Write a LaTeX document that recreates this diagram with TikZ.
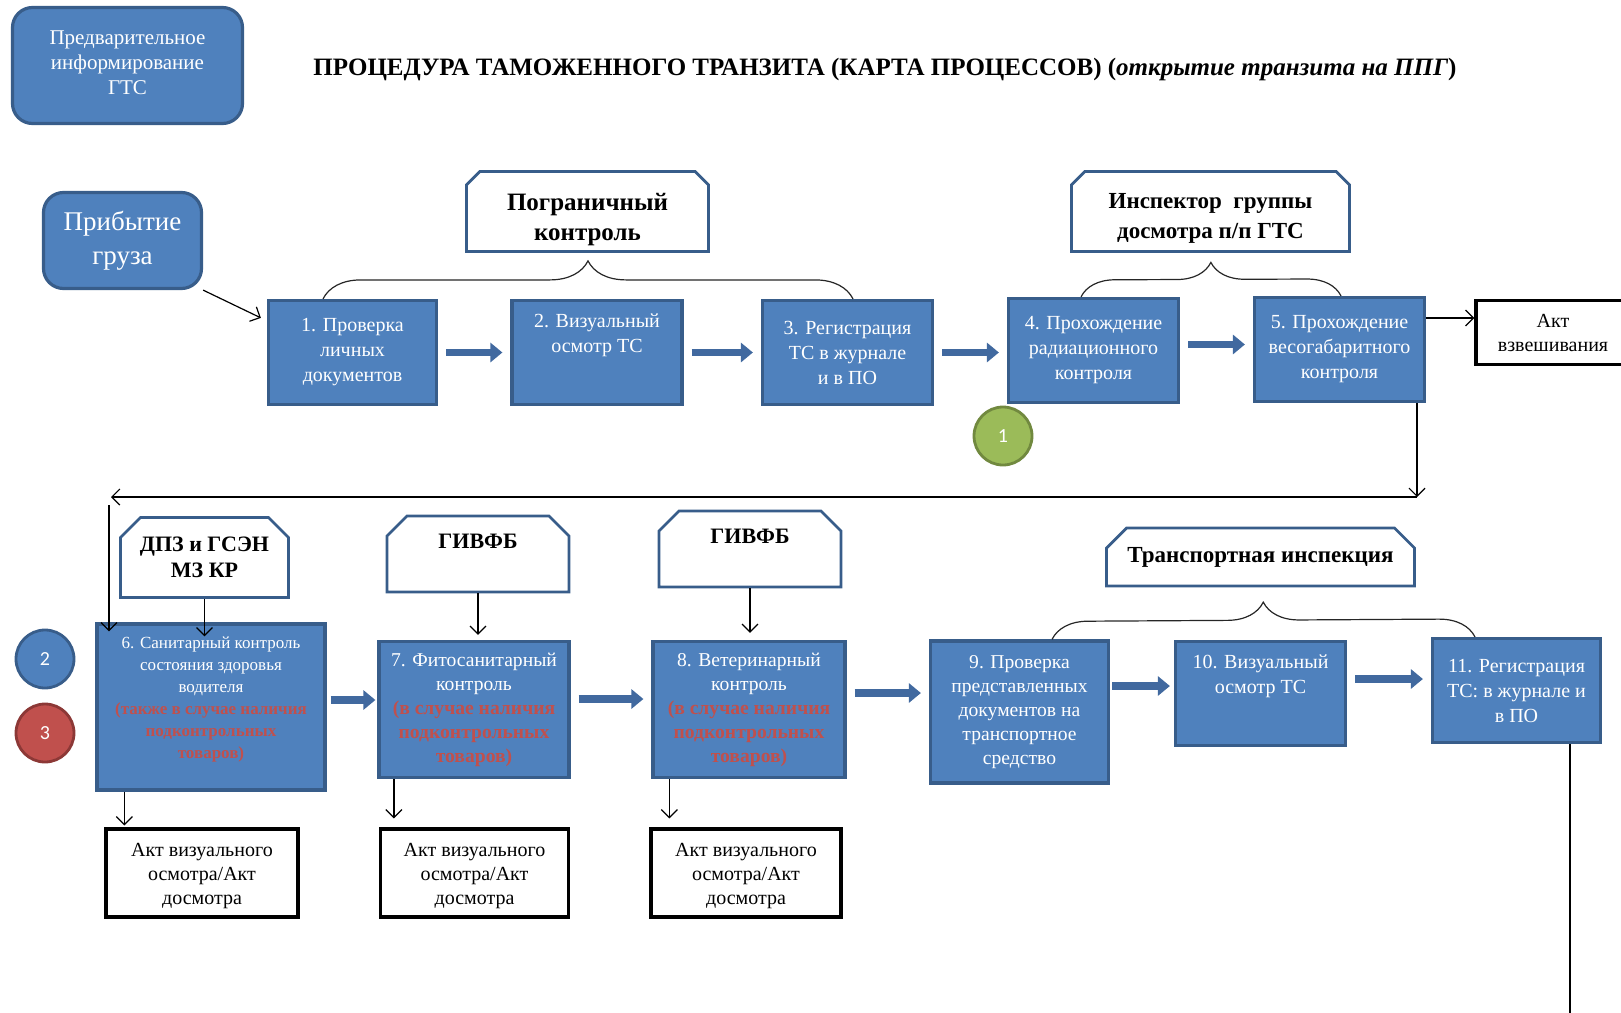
\documentclass[tikz,border=0pt]{standalone}
\usepackage{fontspec}
\setmainfont{Liberation Serif}
\newfontfamily\badgefont{Carlito}
\usetikzlibrary{arrows.meta,shapes.misc,decorations.pathreplacing,calc}

\definecolor{boxblue}{HTML}{4F81BD}
\definecolor{boxline}{HTML}{385D8A}
\definecolor{flowblue}{HTML}{41699F}
\definecolor{okfill}{HTML}{9BBB59}
\definecolor{okline}{HTML}{71893F}
\definecolor{stopfill}{HTML}{C0504D}
\definecolor{stopline}{HTML}{8C3836}
\definecolor{redtxt}{HTML}{C0504D}

\newcommand{\alertline}[1]{\textcolor{redtxt}{\textbf{#1}}}

\tikzset{
  stage/.style={draw=boxline, fill=boxblue, line width=1.6pt, text=white, align=center,
    inner sep=2pt, font=\fontsize{10}{12.5}\selectfont},
  startbox/.style={draw=boxline, fill=boxblue, line width=1.6pt, rounded corners=10pt,
    text=white, align=center},
  unit/.style={draw=boxline, fill=white, line width=1.4pt, chamfered rectangle,
    chamfered rectangle corners={north west,north east},
    chamfered rectangle xsep=5pt, chamfered rectangle ysep=5pt,
    align=center, font=\bfseries\fontsize{11.5}{14.5}\selectfont},
  unittext/.style={yshift=-4pt, align=center, font=\bfseries\fontsize{#1}{15}\selectfont},
  paper/.style={draw=black, fill=white, line width=1.6pt, align=center,
    font=\fontsize{10}{12}\selectfont},
  badge/.style={circle, minimum size=29pt, inner sep=0pt, line width=1.4pt, text=white,
    font=\badgefont\fontsize{10}{12}\selectfont},
  bigarrow/.style={draw=flowblue, line width=3.6pt, -{Triangle[length=6pt,width=9.5pt]},
    shorten <=4pt, shorten >=4pt},
  thinarrow/.style={line width=0.6pt, -{Straight Barb[length=4pt,width=8pt]}},
  bracket/.style={decorate, decoration={brace, amplitude=#1}, line width=0.6pt, draw=black!85}
}

\begin{document}
\begin{tikzpicture}[x=0.5pt,y=-0.5pt]
  \useasboundingbox (0,0) rectangle (1621,1012);

  % head
  \node[startbox, minimum width=115pt, minimum height=58pt,
    font=\fontsize{10.5}{12.5}\selectfont] (pre) at (127.5,65.5) {Предварительное\\информирование\\ГТС\rule[-3pt]{0pt}{0pt}};
  \node[font=\bfseries\fontsize{12.5}{15}\selectfont] (title) at (885,69)
    {ПРОЦЕДУРА ТАМОЖЕННОГО ТРАНЗИТА (КАРТА ПРОЦЕССОВ) (\textit{открытие транзита на ППГ})};
  \node[startbox, minimum width=79pt, minimum height=48pt,
    font=\fontsize{13.5}{17}\selectfont] (arrival) at (122.5,240.5) {Прибытие\\груза};

  % first row
  \node[unit, minimum width=121pt, minimum height=40pt,
    label={[unittext=12.5]center:Пограничный\\контроль}] (border) at (587.5,211.5) {};
  \node[unit, minimum width=139pt, minimum height=40pt,
    label={[unittext=11.5, yshift=0.5pt]center:Инспектор\ \ группы\\досмотра п/п ГТС}] (inspect) at (1210.5,211.5) {};

  \node[stage, minimum width=84pt, minimum height=52pt] (b1) at (352.5,352.5) {1. Проверка\\личных\\документов};
  \node[stage, minimum width=85pt, minimum height=52pt] (b2) at (597,352.5) {2. Визуальный\\осмотр ТС\\\rule[-7pt]{0pt}{0pt}};
  \node[stage, minimum width=85pt, minimum height=52pt] (b3) at (847.5,352.5) {3. Регистрация\\ТС в журнале\\и в ПО};
  \node[stage, minimum width=85pt, minimum height=52pt] (b4) at (1093.5,350.5) {4. Прохождение\\радиационного\\контроля};
  \node[stage, minimum width=85pt, minimum height=52pt] (b5) at (1339.5,349.5) {5. Прохождение\\весогабаритного\\контроля};
  \node[paper, minimum width=77pt, minimum height=32pt] (weigh) at (1553,332.5) {Акт\\взвешивания};
  \node[badge, draw=okline, fill=okfill] (c1) at (1003,436) {1};

  \draw[bracket=19pt] ($(b1.north)+(-29.5,0)$) -- ($(b3.north)+(5.5,0)$);
  \draw[bracket=17pt] ($(b4.north)+(-12.5,0)$) -- ($(b5.north)+(1.5,0)$);
  \draw[thinarrow] (arrival.south east) -- ($(b1.north west)+(-6,19)$);
  \draw[bigarrow] (b1.east) -- (b2.west);
  \draw[bigarrow] (b2.east) -- (b3.west);
  \draw[bigarrow] (b3.east) -- (b3.east -| b4.west);
  \draw[bigarrow] ([yshift=3pt]b4.east) -- ([yshift=3pt]b4.east -| b5.west);
  \draw[thinarrow] ([yshift=15.75pt]b5.east) -- ([yshift=15.75pt]b5.east -| weigh.west);

  % back to the second row
  \coordinate (loopR) at (1417,497);
  \coordinate (loopL) at (111,497);
  \coordinate (loopD) at (109,505);

  % second row
  \node[unit, minimum width=84pt, minimum height=40pt,
    font=\bfseries\fontsize{11}{13}\selectfont] (dpz) at (204.5,557.5) {ДПЗ и ГСЭН\\МЗ КР};
  \node[unit, minimum width=91pt, minimum height=38pt,
    font=\bfseries\fontsize{11}{13}\selectfont] (phyto) at (478,554) {ГИВФБ\\~};
  \node[unit, minimum width=91pt, minimum height=38pt,
    font=\bfseries\fontsize{11}{13}\selectfont] (vet) at (750,549) {ГИВФБ\\~};
  \node[unit, minimum width=154pt, minimum height=29pt] (transport) at (1260.5,557) {Транспортная инспекция};

  \node[stage, minimum width=114pt, minimum height=83pt,
    font=\fontsize{8.5}{11}\selectfont] (b6) at (211,707)
    {6. Санитарный контроль\\состояния здоровья\\водителя\\\alertline{(также в случае наличия}\\\alertline{подконтрольных}\\\alertline{товаров)}\rule[-9pt]{0pt}{0pt}};
  \node[stage, minimum width=95pt, minimum height=68pt,
    font=\fontsize{9.8}{12}\selectfont] (b7) at (474,709.5)
    {7. Фитосанитарный\\контроль\\\alertline{(в случае наличия}\\\alertline{подконтрольных}\\\alertline{товаров)}};
  \node[stage, minimum width=96pt, minimum height=68pt,
    font=\fontsize{9.8}{12}\selectfont] (b8) at (749,709.5)
    {8. Ветеринарный\\контроль\\\alertline{(в случае наличия}\\\alertline{подконтрольных}\\\alertline{товаров)}};
  \node[stage, minimum width=89pt, minimum height=71pt,
    font=\fontsize{9.8}{12}\selectfont] (b9) at (1019.5,712)
    {9. Проверка\\представленных\\документов на\\транспортное\\средство};
  \node[stage, minimum width=85pt, minimum height=52pt] (b10) at (1260.5,693.5) {10. Визуальный\\осмотр ТС\\\rule[-7pt]{0pt}{0pt}};
  \node[stage, minimum width=84pt, minimum height=52pt] (b11) at (1516.5,690.5) {11. Регистрация\\ТС: в журнале и\\в ПО};

  \node[badge, draw=boxline, fill=boxblue] (c2) at (45,659) {2};
  \node[badge, draw=stopline, fill=stopfill] (c3) at (45,733) {3};

  \node[paper, minimum width=96pt, minimum height=44pt] (a6) at (202,873) {\rule{0pt}{10pt}Акт визуального\\осмотра/Акт\\досмотра};
  \node[paper, minimum width=94pt, minimum height=44pt] (a7) at (474.5,873) {\rule{0pt}{10pt}Акт визуального\\осмотра/Акт\\досмотра};
  \node[paper, minimum width=95pt, minimum height=44pt] (a8) at (746,873) {\rule{0pt}{10pt}Акт визуального\\осмотра/Акт\\досмотра};
  \coordinate (a6in) at ($(a6.north west)+(20,0)$);
  \coordinate (a7in) at ($(a7.north west)+(15,0)$);
  \coordinate (a8in) at ($(a8.north west)+(20,0)$);
  \coordinate (exit) at (1570,1020);

  \draw[thinarrow] (b5.south -| loopR) -- (loopR);
  \draw[thinarrow] (loopR) -- (loopL);
  \draw[thinarrow] (loopD) -- ($(loopD |- b6.north)+(0,9)$);

  \draw[bracket=18pt] ($(b9.north)+(32.5,0)$) -- ($(b11.north)+(-41.5,0)$);
  \draw[thinarrow] (dpz.south) -- ($(dpz.south |- b6.north)+(0,14)$);
  \draw[thinarrow] (phyto.south) -- ($(phyto.south |- b7.north)+(0,-5)$);
  \draw[thinarrow] (vet.south) -- ($(vet.south |- b8.north)+(0,-7)$);

  \draw[bigarrow, shorten <=2pt, shorten >=1pt] ([yshift=3.5pt]b6.east) -- ([yshift=3.5pt]b6.east -| b7.west);
  \draw[bigarrow] ([yshift=5.25pt]b7.east) -- ([yshift=5.25pt]b7.east -| b8.west);
  \draw[bigarrow] ([yshift=8.25pt]b8.east) -- ([yshift=8.25pt]b8.east -| b9.west);
  \draw[bigarrow, shorten <=1pt, shorten >=2pt] ([yshift=13pt]b9.east) -- ([yshift=13pt]b9.east -| b10.west);
  \draw[bigarrow] ([yshift=7.25pt]b10.east) -- ([yshift=7.25pt]b10.east -| b11.west);

  \draw[thinarrow] (a6in |- b6.south) -- ($(a6in)+(0,-2)$);
  \draw[thinarrow] (a7in |- b7.south) -- ($(a7in)+(0,-9)$);
  \draw[thinarrow] (a8in |- b8.south) -- ($(a8in)+(0,-9)$);
  \draw[line width=0.6pt] (b11.south -| exit) -- (exit);
\end{tikzpicture}
\end{document}
